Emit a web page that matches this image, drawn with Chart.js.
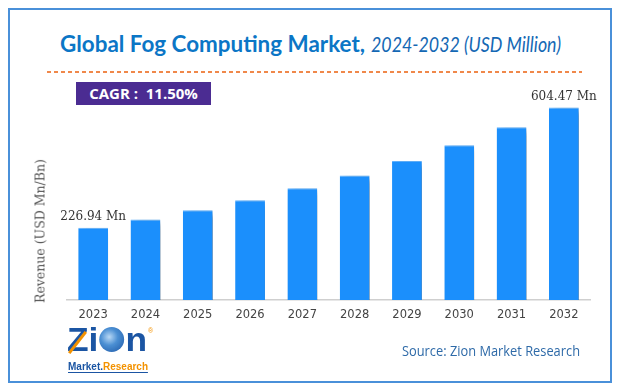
<!DOCTYPE html>
<html>
<head>
<meta charset="utf-8">
<script src="https://cdn.jsdelivr.net/npm/chart.js@4"></script>
<style>
  html,body{margin:0;padding:0;background:#fff;}
  #wrap{position:relative;width:618px;height:389px;overflow:hidden;background:#fff;}
  #frame{position:absolute;left:8px;top:8px;width:600px;height:371px;border:2px solid #4a90d9;}
  canvas{position:absolute;left:0;top:0;}
  .fit{position:absolute;white-space:nowrap;transform-origin:0 0;}
  #t1{font-family:Lato,"Open Sans",sans-serif;font-weight:700;font-size:22px;color:#0b76c6;}
  #t2{font-family:Lato,"Open Sans",sans-serif;font-style:italic;font-size:21px;color:#1468b4;}
  #dash{position:absolute;left:47px;top:71px;width:535px;height:1.5px;
        background:repeating-linear-gradient(90deg,#f0884a 0 4px,transparent 4px 7px);}
  #cagr{position:absolute;left:76px;top:82px;width:135px;height:23px;background:#4b2c92;color:#fff;
        font-family:"Open Sans",Lato,sans-serif;font-weight:700;font-size:15px;line-height:23px;text-align:center;}
  #ytitle{position:absolute;left:40px;top:231px;transform:translate(-50%,-50%) rotate(-90deg);
          font-family:"DejaVu Serif",serif;font-size:12.5px;color:#555;white-space:nowrap;}
  #src{font-family:"Open Sans",Lato,sans-serif;font-size:14px;color:#2e6aa8;}
  #logo{position:absolute;left:67px;top:326px;width:90px;height:50px;}
  #zion{left:0;top:-6px;font-family:"Liberation Sans",Arial,sans-serif;font-weight:900;font-size:34px;color:#1b55a3;}
  #globe{display:inline-block;width:24px;height:25px;border-radius:50%;vertical-align:-1px;margin:0 1px;
         background:radial-gradient(circle at 40% 40%,#b8d8f5 0%,#4b8fd3 40%,#1b55a3 100%);}
  #arrow{position:absolute;left:9px;top:3px;width:3px;height:27px;background:#f39200;transform:rotate(38deg);}
  #mr{left:1px;top:35px;font-family:"Liberation Sans",Arial,sans-serif;font-weight:700;font-size:11px;
      border-bottom:1px solid #1b55a3;line-height:11px;}
  #reg{position:absolute;left:81px;top:1px;font-size:7px;color:#f39200;font-family:sans-serif;}
</style>
</head>
<body>
<div id="wrap">
  <div id="frame"></div>
  <div class="fit" id="t1" data-w="305" style="left:60px;top:30px;">Global Fog Computing Market,</div>
  <div class="fit" id="t2" data-w="190" style="left:371px;top:31px;">2024-2032 (USD Million)</div>
  <div id="dash"></div>
  <div id="cagr">CAGR :&nbsp; 11.50%</div>
  <canvas id="c" width="618" height="389"></canvas>
  <div id="ytitle">Revenue (USD Mn/Bn)</div>
  <div class="fit" id="src" data-w="178" style="left:402px;top:341px;">Source: Zion Market Research</div>
  <div id="logo">
    <div class="fit" id="zion" data-w="80">Zi<span id="globe"></span>n</div>
    <div id="arrow"></div>
    <div id="reg">®</div>
    <div class="fit" id="mr" data-w="80"><span style="color:#1b55a3">Market.</span><span style="color:#f39200">Research</span></div>
  </div>
</div>
<script>
const categories = ["2023","2024","2025","2026","2027","2028","2029","2030","2031","2032"];
const revenue = [226.94, 253.0, 281.5, 313.5, 350.5, 391.0, 436.0, 486.0, 542.0, 604.47];
const valueLabels = ["226.94 Mn", "", "", "", "", "", "", "", "", "604.47 Mn"];

document.querySelectorAll('.fit').forEach(el => {
  const target = parseFloat(el.dataset.w);
  const w = el.getBoundingClientRect().width;
  if (w > 0) el.style.transform = 'scaleX(' + (target / w) + ')';
});

const shadowPlugin = {
  id: 'barShadow',
  beforeDatasetsDraw(chart) {
    const ctx = chart.ctx;
    ctx.save();
    ctx.shadowColor = 'rgba(0,0,0,0.55)';
    ctx.shadowBlur = 6;
    ctx.shadowOffsetX = 5;
    ctx.shadowOffsetY = 4;
  },
  afterDatasetsDraw(chart) {
    const ctx = chart.ctx;
    ctx.restore();
    const meta = chart.getDatasetMeta(0);
    ctx.save();
    ctx.font = '12px "DejaVu Serif", serif';
    ctx.fillStyle = '#333';
    ctx.textAlign = 'center';
    ctx.textBaseline = 'bottom';
    meta.data.forEach((bar, i) => {
      if (valueLabels[i]) ctx.fillText(valueLabels[i], bar.x, bar.y - 5);
    });
    ctx.restore();
  }
};

new Chart(document.getElementById('c'), {
  type: 'bar',
  data: {
    labels: categories,
    datasets: [{
      data: revenue,
      backgroundColor: '#1b8ffc',
      borderColor: '#62b3ff',
      borderWidth: {top: 1, left: 0, right: 0, bottom: 0},
      borderSkipped: 'bottom',
      categoryPercentage: 1,
      barPercentage: 0.57
    }]
  },
  options: {
    responsive: false,
    animation: false,
    devicePixelRatio: 1,
    layout: {padding: {left: 67, right: 28, top: 77, bottom: 0}},
    plugins: {legend: {display: false}, tooltip: {enabled: false}},
    scales: {
      x: {
        grid: {display: false, drawTicks: false},
        border: {display: true, color: '#cfcfcf', width: 1.5},
        ticks: {color: '#444', padding: 8, font: {family: '"DejaVu Sans", Verdana, sans-serif', size: 11.5}},
        afterFit(s) { s.height = 89; }
      },
      y: {display: false, min: 0, max: 700}
    }
  },
  plugins: [shadowPlugin]
});
</script>
</body>
</html>
